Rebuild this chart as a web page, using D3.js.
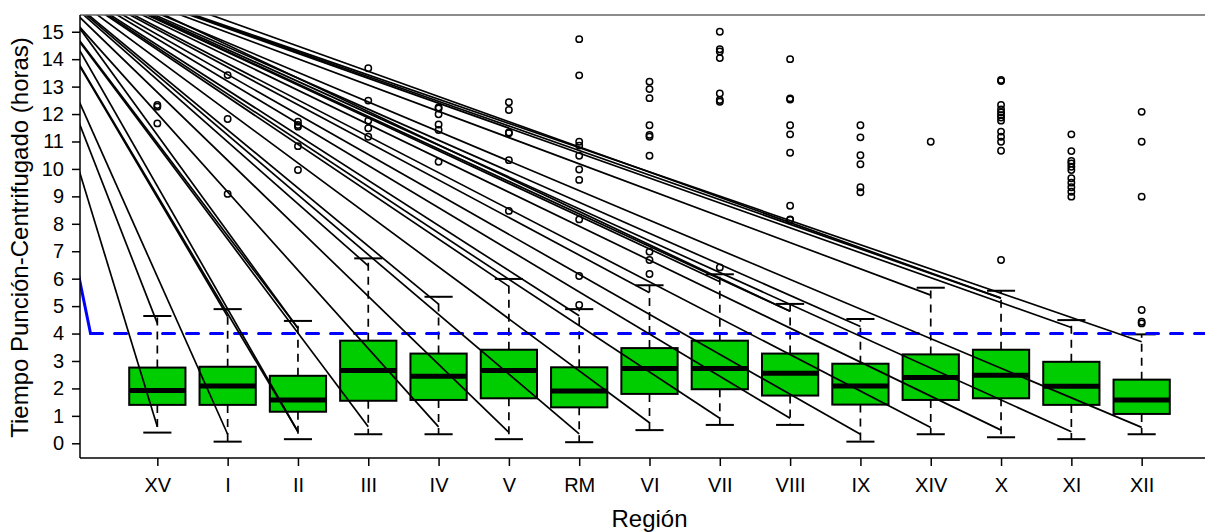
<!DOCTYPE html>
<html>
<head>
<meta charset="utf-8">
<script src="https://cdn.jsdelivr.net/npm/d3@7"></script>
<style>
  html, body { margin: 0; padding: 0; background: #fff; }
  svg { display: block; font-family: "Liberation Sans", Arial, Helvetica, sans-serif; }
</style>
</head>
<body>
<script>
// ---------------- data ----------------
const regions = ["XV","I","II","III","IV","V","RM","VI","VII","VIII","IX","XIV","X","XI","XII"];
const whiskerLow  = [0.39,0.06,0.15,0.33,0.33,0.15,0.04,0.48,0.67,0.67,0.06,0.33,0.22,0.15,0.33];
const q1          = [1.40,1.40,1.15,1.55,1.58,1.64,1.31,1.80,1.97,1.74,1.41,1.58,1.64,1.40,1.07];
const medians     = [1.92,2.09,1.58,2.65,2.44,2.65,1.91,2.73,2.73,2.55,2.09,2.40,2.48,2.08,1.58];
const q3          = [2.76,2.79,2.46,3.74,3.27,3.41,2.77,3.47,3.74,3.27,2.90,3.24,3.41,2.97,2.32];
const whiskerHigh = [4.64,4.89,4.46,6.74,5.34,5.99,4.89,5.76,6.16,5.08,4.53,5.67,5.56,4.49,3.97];
const outliers = [
  [12.33,12.27,11.66],
  [13.42,11.82,9.09],
  [11.72,11.60,11.54,10.83,9.96],
  [13.67,12.49,11.76,11.48,11.17],
  [12.24,12.20,11.99,11.62,11.42,10.26],
  [12.43,12.15,11.33,11.30,10.32,8.47],
  [14.73,13.41,10.99,10.85,10.48,9.98,9.60,8.16,6.10,5.04],
  [13.18,12.91,12.58,11.59,11.24,11.17,10.48,6.98,6.68,6.17],
  [15.00,14.36,14.28,14.04,12.75,12.51,12.45,6.41],
  [14.00,12.57,12.53,11.59,11.26,10.59,8.66,8.16,8.14],
  [11.59,11.15,10.50,10.17,9.33,9.15],
  [10.99],
  [13.24,13.20,12.33,12.17,12.06,11.96,11.87,11.76,11.36,11.17,10.99,10.66,6.68],
  [11.26,10.65,10.29,10.20,10.08,9.96,9.66,9.50,9.33,9.17,8.99],
  [12.08,10.99,8.99,4.86,4.43,4.37]
];
// fan of straight lines drawn over the plot: common start, ends at each region
const fanStart    = [-1.06, 17.9];
const fanStart2   = [-0.95, 18.1];
const fanEndLow   = [0.60,0.33,0.42,0.60,0.60,0.40,0.34,0.75,0.91,0.91,0.33,0.58,0.48,0.42,0.58];
const fanEndHigh  = [4.37,4.62,4.19,6.47,5.07,5.72,4.65,5.49,5.89,4.81,4.26,5.40,5.29,4.22,3.70];
const fanDoubleLow  = ["II"];
const fanDoubleHigh = ["II","VIII","X"];
// blue reference
const blueSolid = [[-1.06, 17.9],[0.05, 4]];
const blueDashed = [[0.05, 4],[16.1, 4]];
const yTicks = [0,1,2,3,4,5,6,7,8,9,10,11,12,13,14,15];

// ---------------- layout ----------------
const W = 1205, H = 532;
const plot = {left: 80, top: 15, right: 1219, bottom: 458};
const x = d3.scaleLinear().domain([-0.1, 16.1]).range([plot.left, plot.right]);
const y = d3.scaleLinear().domain([-0.536, 15.61]).range([plot.bottom, plot.top]);

const svg = d3.select("body").append("svg").attr("width", W).attr("height", H);
svg.append("defs").append("clipPath").attr("id","clip")
  .append("rect").attr("x", plot.left).attr("y", plot.top)
  .attr("width", plot.right - plot.left).attr("height", plot.bottom - plot.top);

const g = svg.append("g").attr("clip-path","url(#clip)");
const boxW = 0.8, capW = 0.4, LW = 1.7;

regions.forEach((r, i) => {
  const cx = x(i + 1);
  const half = (x(boxW/2) - x(0));
  const capHalf = (x(capW/2) - x(0));
  // whiskers (dashed)
  g.append("line").attr("x1", cx).attr("x2", cx).attr("y1", y(q3[i])).attr("y2", y(whiskerHigh[i]))
    .attr("stroke","#000").attr("stroke-width", LW).attr("stroke-dasharray","8,6");
  g.append("line").attr("x1", cx).attr("x2", cx).attr("y1", y(q1[i])).attr("y2", y(whiskerLow[i]))
    .attr("stroke","#000").attr("stroke-width", LW).attr("stroke-dasharray","8,6");
  // caps
  [whiskerHigh[i], whiskerLow[i]].forEach(v => {
    g.append("line").attr("x1", cx - capHalf).attr("x2", cx + capHalf).attr("y1", y(v)).attr("y2", y(v))
      .attr("stroke","#000").attr("stroke-width", LW + 0.3);
  });
  // box
  g.append("rect").attr("x", cx - half).attr("width", 2*half)
    .attr("y", y(q3[i])).attr("height", y(q1[i]) - y(q3[i]))
    .attr("fill","#00CD00").attr("stroke","#000").attr("stroke-width", LW + 0.3);
  // median
  g.append("line").attr("x1", cx - half).attr("x2", cx + half).attr("y1", y(medians[i])).attr("y2", y(medians[i]))
    .attr("stroke","#000").attr("stroke-width", 5);
  // outliers
  outliers[i].forEach(v => {
    g.append("circle").attr("cx", cx).attr("cy", y(v)).attr("r", 3.2)
      .attr("fill","none").attr("stroke","#000").attr("stroke-width", 1.5);
  });
});

// blue line
const line = d3.line().x(d => x(d[0])).y(d => y(d[1]));
g.append("path").attr("d", line(blueDashed)).attr("fill","none").attr("stroke","#0000FF")
  .attr("stroke-width", 3).attr("stroke-dasharray","12,12").attr("stroke-linecap","round");
g.append("path").attr("d", line(blueSolid)).attr("fill","none").attr("stroke","#0000FF")
  .attr("stroke-width", 3).attr("stroke-linecap","round");

// fan lines
function fan(start, i, v) {
  g.append("path").attr("d", line([start, [i + 1, v]])).attr("fill","none")
    .attr("stroke","#000").attr("stroke-width", LW);
}
regions.forEach((r, i) => {
  fan(fanStart, i, fanEndLow[i]);
  fan(fanStart, i, fanEndHigh[i]);
  if (fanDoubleLow.includes(r)) fan(fanStart2, i, fanEndLow[i]);
  if (fanDoubleHigh.includes(r)) fan(fanStart2, i, fanEndHigh[i]);
});

// frame (top edge appears lighter in the reference)
svg.append("line").attr("x1", plot.left).attr("x2", plot.right).attr("y1", plot.top).attr("y2", plot.top)
  .attr("stroke","#666").attr("stroke-width", 1.5);
svg.append("line").attr("x1", plot.left).attr("x2", plot.left).attr("y1", plot.top).attr("y2", plot.bottom)
  .attr("stroke","#000").attr("stroke-width", 1.5);
svg.append("line").attr("x1", plot.left).attr("x2", plot.right).attr("y1", plot.bottom).attr("y2", plot.bottom)
  .attr("stroke","#000").attr("stroke-width", 1.5);

// axes
const ax = svg.append("g").attr("transform", `translate(${plot.left},0)`)
  .call(d3.axisLeft(y).tickValues(yTicks).tickSize(8).tickPadding(8).tickFormat(d3.format("d")));
ax.select(".domain").remove();
ax.selectAll("line").attr("stroke","#000").attr("stroke-width",1.5);
ax.selectAll("text").attr("font-size", 20).attr("fill","#000")
  .attr("font-family", '"Liberation Sans", Arial, sans-serif');

const bx = svg.append("g").attr("transform", `translate(0,${plot.bottom})`)
  .call(d3.axisBottom(x).tickValues(d3.range(1, 16)).tickSize(8).tickPadding(12)
    .tickFormat(d => regions[d - 1]));
bx.select(".domain").remove();
bx.selectAll("line").attr("stroke","#000").attr("stroke-width",1.5);
bx.selectAll("text").attr("font-size", 20).attr("fill","#000")
  .attr("font-family", '"Liberation Sans", Arial, sans-serif');

// titles
svg.append("text").attr("x", (plot.left + plot.right) / 2).attr("y", 527)
  .attr("text-anchor","middle").attr("font-size", 24).attr("fill","#000").text("Región");
svg.append("text").attr("transform", `translate(27.5,${(443 + 32) / 2}) rotate(-90)`)
  .attr("text-anchor","middle").attr("font-size", 24).attr("fill","#000")
  .text("Tiempo Punción-Centrifugado (horas)");
</script>
</body>
</html>
